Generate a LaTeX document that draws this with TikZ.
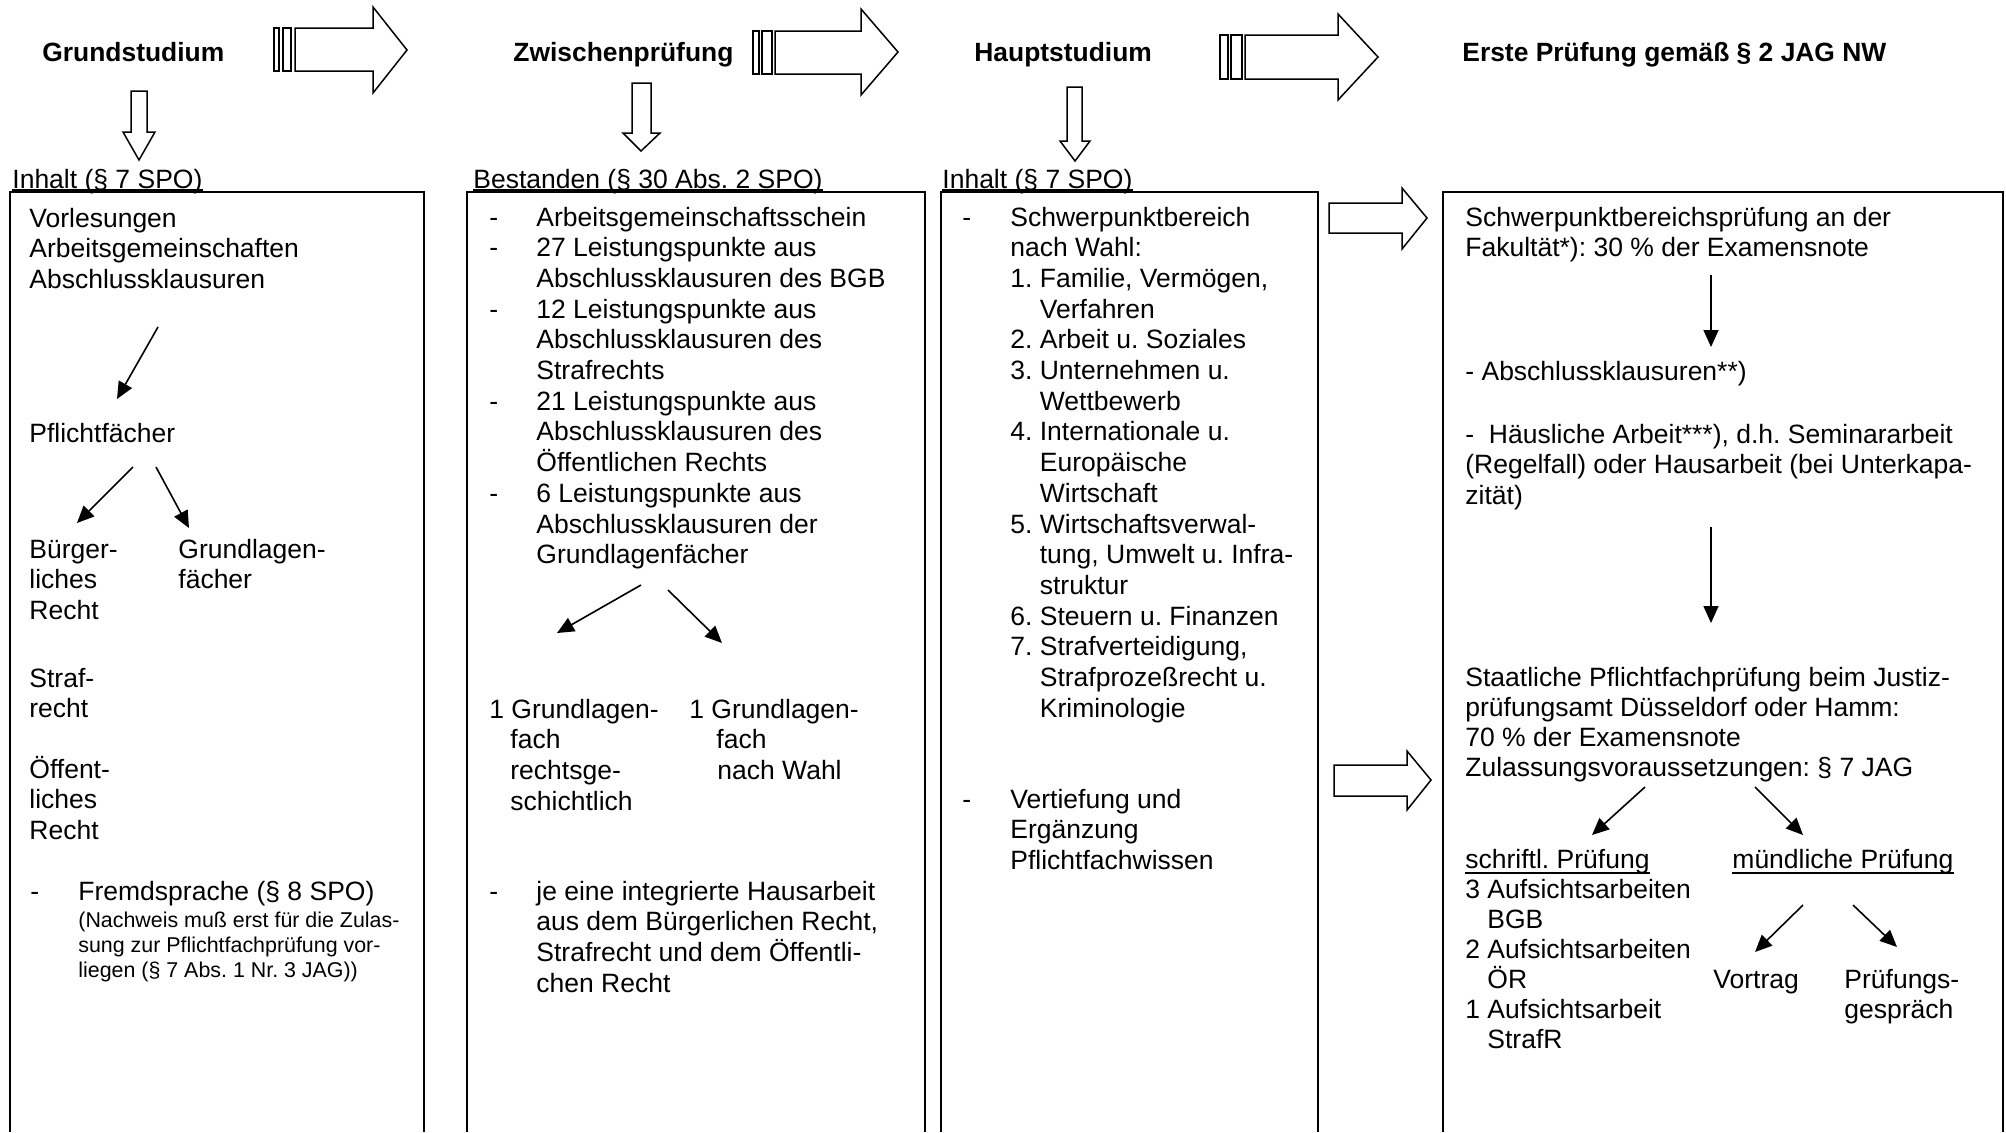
\documentclass[tikz,border=0pt]{standalone}
\usepackage{fontspec}
\setmainfont{Liberation Sans}
\usetikzlibrary{arrows.meta}
\newcommand{\bodyfont}{\fontsize{13.25pt}{15.35pt}\selectfont\frenchspacing}
\newcommand{\bodyfontb}{\fontsize{13.25pt}{15pt}\selectfont\frenchspacing}
\newcommand{\smallfont}{\fontsize{10.7pt}{12.5pt}\selectfont\frenchspacing}
\newcommand{\titlefont}{\fontsize{13.2pt}{15.35pt}\selectfont\bfseries\frenchspacing}
\newcommand{\mylines}[1]{\parbox[t]{400pt}{\raggedright\hyphenpenalty=10000 #1}}
\newcommand{\myind}{\hspace*{14.73pt}}
\tikzset{
  body/.style={anchor=base west, inner sep=0pt, font=\bodyfont},
  bodyb/.style={anchor=base west, inner sep=0pt, font=\bodyfontb},
  smalltxt/.style={anchor=base west, inner sep=0pt, font=\smallfont},
  title/.style={anchor=base west, inner sep=0pt, font=\titlefont},
  mybox/.style={line width=0.85pt},
  blockarrow/.style={draw, line width=0.75pt, fill=white, line join=miter},
  arr/.style={line width=0.8pt, -{Triangle[length=8.5pt,width=7.5pt]}},
  uline/.style={line width=0.65pt},
}
\begin{document}
\begin{tikzpicture}[x=0.5pt,y=-0.5pt]
\useasboundingbox (0,0) rectangle (2006,1132);
\fill[white] (0,0) rectangle (2006,1132);

% headers
\node[title] (h1) at (42,61) {Grundstudium};
\node[title] (h2) at (513,61) {Zwischenprüfung};
\node[title] (h3) at (974,61) {Hauptstudium};
\node[title] (h4) at (1462,61) {Erste Prüfung gemäß § 2 JAG NW};

% striped block arrows
\draw[blockarrow] (274,28) rectangle (279,71);
\draw[blockarrow] (283,28) rectangle (291,71);
\draw[blockarrow] (295,28) -- (373,28) -- (373,7) -- (407,50) -- (373,93) -- (373,71) -- (295,71) -- cycle;
\draw[blockarrow] (753,31) rectangle (759,74);
\draw[blockarrow] (762,31) rectangle (772,74);
\draw[blockarrow] (775,31) -- (861,31) -- (861,9) -- (898,52) -- (861,95) -- (861,74) -- (775,74) -- cycle;
\draw[blockarrow] (1220,35) rectangle (1228,79);
\draw[blockarrow] (1231,35) rectangle (1242,79);
\draw[blockarrow] (1245,35) -- (1338,35) -- (1338,14) -- (1378,57) -- (1338,100) -- (1338,79) -- (1245,79) -- cycle;

% down block arrows
\draw[blockarrow] (131,91) -- (147,91) -- (147,132) -- (155,132) -- (139,160) -- (123,132) -- (131,132) -- cycle;
\draw[blockarrow] (632,83) -- (651,83) -- (651,133) -- (660,133) -- (641,151) -- (623,133) -- (632,133) -- cycle;
\draw[blockarrow] (1067,87) -- (1082,87) -- (1082,141) -- (1090,141) -- (1075,161) -- (1060,141) -- (1067,141) -- cycle;

% right block arrows
\draw[blockarrow] (1329,203) -- (1402,203) -- (1402,188) -- (1427,218) -- (1402,249) -- (1402,233) -- (1329,233) -- cycle;
\draw[blockarrow] (1334,765) -- (1407,765) -- (1407,751) -- (1431,780) -- (1407,810) -- (1407,796) -- (1334,796) -- cycle;

% labels above boxes
\node[body] (l1) at (12,188) {Inhalt (§ 7 SPO)};
\node[body] (l2) at (473,188) {Bestanden (§ 30 Abs. 2 SPO)};
\node[body] (l3) at (942,188) {Inhalt (§ 7 SPO)};
\foreach \n in {l1,l2,l3}
  \draw[uline] ([yshift=-1pt]\n.base west) -- ([yshift=-1pt]\n.base east);

% boxes (open at the bottom)
\draw[mybox] (10,1132) -- (10,192) -- (424,192) -- (424,1132);
\draw[mybox] (467,1132) -- (467,192) -- (925,192) -- (925,1132);
\draw[mybox] (941,1132) -- (941,192) -- (1318,192) -- (1318,1132);
\draw[mybox] (1443,1132) -- (1443,192) -- (2003,192) -- (2003,1132);

% box 1
\node[body] (b1a) at (29,227) {\mylines{Vorlesungen\\Arbeitsgemeinschaften\\Abschlussklausuren}};
\node[body] (b1b) at (29,442) {Pflichtfächer};
\node[body] (b1c) at (29,558) {\mylines{Bürger-\\liches\\Recht}};
\node[body] (b1d) at (178,558) {\mylines{Grundlagen-\\fächer}};
\node[body] (b1e) at (29,687) {\mylines{Straf-\\recht}};
\node[body] (b1f) at (29,778) {\mylines{Öffent-\\liches\\Recht}};
\node[body] (b1g) at (30,900) {-};
\node[body] (b1h) at (78,900) {Fremdsprache (§ 8 SPO)};
\node[smalltxt] (b1i) at (78,927) {\mylines{(Nachweis muß erst für die Zulas-\\sung zur Pflichtfachprüfung vor-\\liegen (§ 7 Abs. 1 Nr. 3 JAG))}};
\coordinate (c1a) at (158,327); \coordinate (c1b) at (117,399);
\coordinate (c1c) at (133,467); \coordinate (c1d) at (77,523);
\coordinate (c1e) at (156,467); \coordinate (c1f) at (189,528);
\draw[arr] (c1a) -- (c1b);
\draw[arr] (c1c) -- (c1d);
\draw[arr] (c1e) -- (c1f);

% box 2
\foreach \y in {226,256.7,318.1,410.2,502.3}
  \node[body] at (489,\y) {-};
\node[body] (b2a) at (536,226) {\mylines{Arbeitsgemeinschaftsschein\\27 Leistungspunkte aus\\Abschlussklausuren des BGB\\12 Leistungspunkte aus\\Abschlussklausuren des\\Strafrechts\\21 Leistungspunkte aus\\Abschlussklausuren des\\Öffentlichen Rechts\\6 Leistungspunkte aus\\Abschlussklausuren der\\Grundlagenfächer}};
\node[body] (b2b) at (489,718) {\mylines{1 Grundlagen-\\\hspace*{10.5pt}fach\\\hspace*{10.5pt}rechtsge-\\\hspace*{10.5pt}schichtlich}};
\node[body] (b2c) at (689,718) {\mylines{1 Grundlagen-\\\hspace*{13.5pt}fach\\\hspace*{14pt}nach Wahl}};
\node[body] (b2e) at (489,900) {-};
\node[body] (b2f) at (536,900) {\mylines{je eine integrierte Hausarbeit\\aus dem Bürgerlichen Recht,\\Strafrecht und dem Öffentli-\\chen Recht}};
\coordinate (c2a) at (641,585); \coordinate (c2b) at (557,633);
\coordinate (c2c) at (668,590); \coordinate (c2d) at (722,643);
\draw[arr] (c2a) -- (c2b);
\draw[arr] (c2c) -- (c2d);

% box 3
\node[body] (b3d1) at (962,226) {-};
\node[body] (b3a) at (1010,226) {\mylines{Schwerpunktbereich\\nach Wahl:\\1. Familie, Vermögen,\\\myind Verfahren\\2. Arbeit u. Soziales\\3. Unternehmen u.\\\myind Wettbewerb\\4. Internationale u.\\\myind Europäische\\\myind Wirtschaft\\5. Wirtschaftsverwal-\\\myind tung, Umwelt u. Infra-\\\myind struktur\\6. Steuern u. Finanzen\\7. Strafverteidigung,\\\myind Strafprozeßrecht u.\\\myind Kriminologie}};
\node[body] (b3d2) at (962,808) {-};
\node[body] (b3b) at (1010,808) {\mylines{Vertiefung und\\Ergänzung\\Pflichtfachwissen}};

% box 4
\node[body] (b4a) at (1465,226) {\mylines{Schwerpunktbereichsprüfung an der\\Fakultät*): 30 \% der Examensnote}};
\node[body] (b4b) at (1465,380) {- Abschlussklausuren**)};
\node[body] (b4c) at (1465,443) {\mylines{-\ \ Häusliche Arbeit***), d.h. Seminararbeit\\(Regelfall) oder Hausarbeit (bei Unterkapa-\\zität)}};
\node[bodyb] (b4d) at (1465,686) {\mylines{Staatliche Pflichtfachprüfung beim Justiz-\\prüfungsamt Düsseldorf oder Hamm:\\70 \% der Examensnote\\Zulassungsvoraussetzungen: § 7 JAG}};
\node[body] (b4e) at (1465,868) {schriftl. Prüfung};
\node[body] (b4f) at (1732,868) {mündliche Prüfung};
\foreach \n in {b4e,b4f}
  \draw[uline] ([yshift=-2.5pt]\n.base west) -- ([yshift=-2.5pt]\n.base east);
\node[bodyb] (b4g) at (1465,898) {\mylines{3 Aufsichtsarbeiten\\\hspace*{11pt}BGB\\2 Aufsichtsarbeiten\\\hspace*{11pt}ÖR\\1 Aufsichtsarbeit\\\hspace*{11pt}StrafR}};
\node[body] (b4h) at (1713,988) {Vortrag};
\node[bodyb] (b4i) at (1844,988) {\mylines{Prüfungs-\\gespräch}};
\coordinate (c4a) at (1711,275); \coordinate (c4b) at (1711,347);
\coordinate (c4c) at (1711,527); \coordinate (c4d) at (1711,623);
\coordinate (c4e) at (1645,787); \coordinate (c4f) at (1592,835);
\coordinate (c4g) at (1755,787); \coordinate (c4h) at (1803,835);
\coordinate (c4i) at (1803,905); \coordinate (c4j) at (1755,952);
\coordinate (c4k) at (1853,905); \coordinate (c4l) at (1897,947);
\draw[arr] (c4a) -- (c4b);
\draw[arr] (c4c) -- (c4d);
\draw[arr] (c4e) -- (c4f);
\draw[arr] (c4g) -- (c4h);
\draw[arr] (c4i) -- (c4j);
\draw[arr] (c4k) -- (c4l);
\end{tikzpicture}
\end{document}
